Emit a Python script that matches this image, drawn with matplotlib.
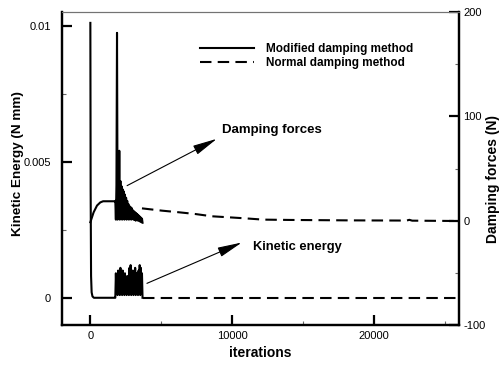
import matplotlib
matplotlib.use("Agg")
import matplotlib.pyplot as plt
from matplotlib.lines import Line2D

plt.rcParams['font.family'] = ['Liberation Sans', 'DejaVu Sans']

# Modified damping method: kinetic energy (N mm) vs iterations
mod_ke_iter = [0, 20, 50, 90, 150, 250, 1720,
               1760, 1800, 1840, 1880, 1920, 1960, 2000, 2040, 2080, 2120,
               2160, 2200, 2240, 2280, 2320, 2360, 2400, 2440, 2480, 2520,
               2560, 2600, 2640, 2680, 2720, 2760, 2800, 2840, 2880, 2920,
               2960, 3000, 3040, 3080, 3120, 3160, 3200, 3240, 3280, 3320,
               3360, 3400, 3440, 3480, 3520, 3560, 3600, 3640, 3680]
mod_ke = [0.0101, 0.0040, 0.0008, 0.0002, 0.00005, 0.0, 0.0,
          0.0000, 0.0009, 0.0002, 0.0008, 0.0001, 0.0010, 0.0002, 0.0009, 0.0001, 0.0011,
          0.0003, 0.0008, 0.0001, 0.0010, 0.0002, 0.0007, 0.0001, 0.0009, 0.0002, 0.0006,
          0.0001, 0.0008, 0.0002, 0.0007, 0.0001, 0.0011, 0.0002, 0.0012, 0.0001, 0.0009,
          0.0002, 0.0010, 0.0001, 0.0008, 0.0002, 0.0011, 0.0001, 0.0009, 0.0002, 0.0008,
          0.0001, 0.0010, 0.0002, 0.0012, 0.0001, 0.0011, 0.0002, 0.0009, 0.0000]

# Modified damping method: damping forces (N)
mod_df_iter = [0, 230, 470, 700, 900, 1600, 1720,
               1760, 1800, 1840, 1880, 1920, 1960, 2000, 2040, 2080, 2120,
               2160, 2200, 2240, 2280, 2320, 2360, 2400, 2440, 2480, 2520,
               2560, 2600, 2640, 2680, 2720, 2760, 2800, 2840, 2880, 2920,
               2960, 3000, 3040, 3080, 3120, 3160, 3200, 3240, 3280, 3320,
               3360, 3400, 3440, 3480, 3520, 3560, 3600, 3640, 3680]
mod_df = [-1.5, 8, 14.5, 17.5, 18.6, 18.6, 18.6,
          19, 1, 34, 180, 1, 40, 2, 67, 1, 38,
          2, 33, 1, 30, 3, 28, 1, 25, 2, 22,
          1, 19, 2, 16, 1, 14, 2, 13, 1, 12,
          2, 10, 1, 9, 1, 8, 0, 7, 1, 6,
          0, 5, 0, 4, -1, 3, -1, 2, -2]

# Normal damping method
norm_df_iter = [3640, 5050, 6270, 7390, 8570, 9790, 10960, 12180,
                14000, 16000, 18000, 20000, 22300, 22500, 22700, 25800]
norm_df = [11.8, 9.6, 8.0, 6.4, 4.2, 3.2, 2.2, 1.0,
           0.7, 0.5, 0.3, 0.2, 0.1, 0.8, 0.0, -0.3]
norm_ke_iter = [3700, 25800]
norm_ke = [0.0, 0.0]

fig = plt.figure(figsize=(5.01, 3.65), dpi=100)
ax = fig.add_axes([62 / 501, 1 - 325 / 365, 397 / 501, 313 / 365])
ax2 = ax.twinx()

dash = (5.5, 3)
ax.plot(mod_ke_iter, mod_ke, color='black', lw=1.5)
ax.plot(norm_ke_iter, norm_ke, color='black', lw=1.5, dashes=dash)
ax2.plot(mod_df_iter, mod_df, color='black', lw=1.5)
ax2.plot(norm_df_iter, norm_df, color='black', lw=1.5, dashes=dash)

ax.set_xlim(-2000, 26000)
ax.set_ylim(-0.001, 0.0105)
ax2.set_ylim(-100, 200)

ax.set_xticks([0, 10000, 20000])
ax.set_xticklabels(['0', '10000', '20000'])
ax.set_xticks([5000, 15000, 25000], minor=True)
ax.set_yticks([0, 0.005, 0.01])
ax.set_yticklabels(['0', '0.005', '0.01'])
ax.set_yticks([0.0025, 0.0075], minor=True)
ax2.set_yticks([-100, 0, 100, 200])
ax2.set_yticklabels(['-100', '0', '100', '200'])
ax2.set_yticks([-50, 50, 150], minor=True)

for a in (ax, ax2):
    a.tick_params(which='major', direction='in', length=7, width=1.6, labelsize=8)
    a.tick_params(which='minor', direction='in', length=3, width=0.8, color='0.4')
    for s in ('left', 'right', 'bottom'):
        a.spines[s].set_linewidth(1.6)
    a.spines['top'].set_linewidth(0.8)
    a.spines['top'].set_color('0.45')
ax.tick_params(axis='y', pad=8)
ax.tick_params(axis='x', pad=4)
ax2.tick_params(axis='y', pad=3)

ax.set_xlabel('iterations', fontsize=10, fontweight='bold')
ax.set_ylabel('Kinetic Energy (N mm)', fontsize=9.7, fontweight='bold')
ax2.set_ylabel('Damping forces (N)', fontsize=10, fontweight='bold')
ax.xaxis.set_label_coords(0.5, -0.067)
ax.yaxis.set_label_coords(-0.0957, 0.516)
ax2.yaxis.set_label_coords(1.068, 0.466)

# annotations with arrows pointing away from the curves
arrow = dict(arrowstyle='-|>,head_length=1.5,head_width=0.3', lw=0.8,
             color='black', shrinkA=0, shrinkB=0, mutation_scale=10)
ax.annotate('', xy=(8920, 0.00584), xytext=(2590, 0.00412), arrowprops=arrow)
ax.text(9280, 0.00618, 'Damping forces', fontsize=9.5, fontweight='bold',
        va='center', ha='left')
ax.annotate('', xy=(10680, 0.00203), xytext=(3990, 0.00053), arrowprops=arrow)
ax.text(11480, 0.00188, 'Kinetic energy', fontsize=9.3, fontweight='bold',
        va='center', ha='left')

handles = [Line2D([], [], color='black', lw=1.5),
           Line2D([], [], color='black', lw=1.5, dashes=dash)]
ax2.legend(handles, ['Modified damping method', 'Normal damping method'],
           loc='upper left', bbox_to_anchor=(200 / 501, 1 - 43 / 365),
           bbox_transform=fig.transFigure, frameon=False, borderpad=0,
           borderaxespad=0, handlelength=4.6, handletextpad=1.0,
           labelspacing=0.15, prop={'weight': 'bold', 'size': 8.5})

fig.savefig('out.png', dpi=100)
